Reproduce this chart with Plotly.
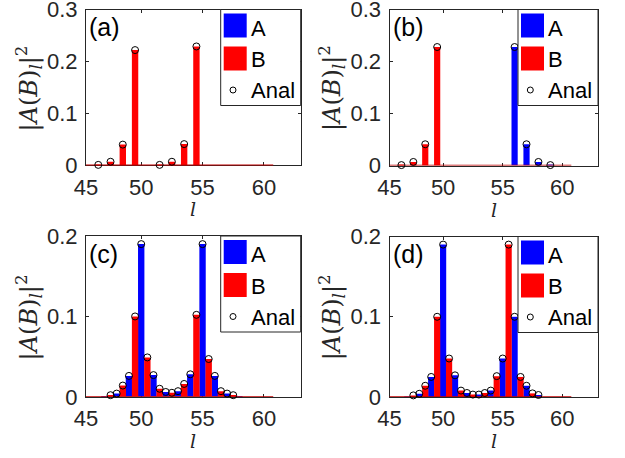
import plotly.graph_objects as go

# ---------------- data ----------------
# sublattice positions: A at integer l, B at half-integer l
l_A = [46, 47, 48, 49, 50, 51, 52, 53, 54, 55, 56, 57, 58, 59, 60]
l_B = [45.5, 46.5, 47.5, 48.5, 49.5, 50.5, 51.5, 52.5, 53.5, 54.5, 55.5, 56.5, 57.5, 58.5, 59.5, 60.5]

# panel (a)
a_A = [0, 0, 0, 0, 0, 0, 0, 0, 0, 0, 0, 0, 0, 0, 0]
a_B = [0, 0.001, 0.007, 0.040, 0.222, 0, 0.001, 0.007, 0.041, 0.229, 0, 0, 0, 0, 0, 0]
a_anal_x = [46.5, 47.5, 48.5, 49.5, 51.5, 52.5, 53.5, 54.5]
a_anal_y = [0.001, 0.007, 0.040, 0.222, 0.001, 0.007, 0.041, 0.229]

# panel (b)
b_A = [0, 0, 0, 0, 0, 0, 0, 0, 0, 0, 0.228, 0.041, 0.007, 0.001, 0]
b_B = [0, 0.001, 0.007, 0.041, 0.228, 0, 0, 0, 0, 0, 0, 0, 0, 0, 0, 0]
b_anal_x = [46.5, 47.5, 48.5, 49.5, 56, 57, 58, 59]
b_anal_y = [0.001, 0.007, 0.041, 0.228, 0.228, 0.041, 0.007, 0.001]

# panel (c)
c_A = [0, 0.0008, 0.004, 0.026, 0.190, 0.027, 0.006, 0.007, 0.028, 0.190, 0.026, 0.004, 0.0008, 0, 0]
c_B = [0, 0, 0.002, 0.014, 0.100, 0.049, 0.010, 0.005, 0.016, 0.102, 0.047, 0.007, 0.002, 0, 0, 0]
c_anal_x = [47.5, 48, 48.5, 49, 49.5, 50, 50.5, 51, 51.5, 52, 52.5, 53, 53.5, 54, 54.5, 55, 55.5, 56, 56.5, 57, 57.5]
c_anal_y = [0.002, 0.004, 0.014, 0.026, 0.100, 0.190, 0.049, 0.027, 0.010, 0.006, 0.005, 0.007, 0.016, 0.028, 0.102, 0.190, 0.047, 0.026, 0.007, 0.004, 0.002]

# panel (d)
d_A = [0, 0.0005, 0.004, 0.025, 0.190, 0.027, 0.005, 0.003, 0.008, 0.048, 0.100, 0.014, 0.0025, 0, 0]
d_B = [0, 0, 0.002, 0.014, 0.100, 0.048, 0.008, 0.003, 0.005, 0.026, 0.190, 0.025, 0.0045, 0, 0, 0]
d_anal_x = [47.5, 48, 48.5, 49, 49.5, 50, 50.5, 51, 51.5, 52, 52.5, 53, 53.5, 54, 54.5, 55, 55.5, 56, 56.5, 57, 57.5, 58]
d_anal_y = [0.002, 0.004, 0.014, 0.025, 0.100, 0.190, 0.048, 0.027, 0.008, 0.005, 0.003, 0.003, 0.005, 0.008, 0.026, 0.048, 0.190, 0.100, 0.025, 0.014, 0.0045, 0.0025]

x_ticks = [45.5, 50, 55, 60]
x_tick_labels = ["45", "50", "55", "60"]
y_ticks_top = [0, 0.1, 0.2, 0.3]
y_tick_labels_top = ["0", "0.1", "0.2", "0.3"]
y_ticks_bot = [0, 0.1, 0.2]
y_tick_labels_bot = ["0", "0.1", "0.2"]
panel_labels = ["(a)", "(b)", "(c)", "(d)"]
series_names = ["A", "B", "Anal"]

# ---------------- layout helpers ----------------
W, H = 625, 458
BLUE, RED = "#0000FF", "#FF0000"
AX = "#262626"
SANS = "Liberation Sans, Arial, sans-serif"
SERIF = "DejaVu Serif, serif"

def px(x):
    return x / W

def py(y):
    return 1 - y / H

# box pixel geometry: left, right, top, bottom
boxes = [
    (86, 300.7, 9.5, 165.4),
    (389.5, 598, 9.5, 165.6),
    (86, 300.7, 236, 396.8),
    (389.5, 598, 236.5, 397.0),
]
ymaxes = [0.3, 0.3, 0.2, 0.2]
panels = [
    (a_A, a_B, a_anal_x, a_anal_y),
    (b_A, b_B, b_anal_x, b_anal_y),
    (c_A, c_B, c_anal_x, c_anal_y),
    (d_A, d_B, d_anal_x, d_anal_y),
]

fig = go.Figure()
shapes = []
annotations = []
bar_w = 0.52

for i, ((A, B, ax_, ay_), (L, R, T, Bt), ymax, lab) in enumerate(zip(panels, boxes, ymaxes, panel_labels)):
    k = "" if i == 0 else str(i + 1)
    xa, ya = "x" + k, "y" + k
    fig.add_trace(go.Bar(x=l_A, y=A, width=bar_w, marker=dict(color=BLUE, line=dict(width=0)),
                         name=series_names[0], showlegend=False, xaxis=xa, yaxis=ya))
    fig.add_trace(go.Bar(x=l_B, y=B, width=bar_w, marker=dict(color=RED, line=dict(width=0)),
                         name=series_names[1], showlegend=False, xaxis=xa, yaxis=ya))
    # zero baseline of the bar series
    fig.add_trace(go.Scatter(x=[l_B[0] - bar_w / 2, l_B[-1] + bar_w / 2], y=[0, 0], mode="lines",
                             line=dict(color="#C00000", width=1.6), showlegend=False,
                             hoverinfo="skip", xaxis=xa, yaxis=ya))
    fig.add_trace(go.Scatter(x=ax_, y=ay_, mode="markers", cliponaxis=False,
                             marker=dict(symbol="circle-open", color="black", size=7, line=dict(width=1)),
                             name=series_names[2], showlegend=False, xaxis=xa, yaxis=ya))

    yt = y_ticks_top if ymax > 0.25 else y_ticks_bot
    ytl = y_tick_labels_top if ymax > 0.25 else y_tick_labels_bot
    common = dict(showline=True, linecolor=AX, linewidth=1, mirror="ticks", ticks="inside",
                  ticklen=3, tickcolor=AX, showgrid=False, zeroline=False, layer="below traces",
                  automargin=False, ticklabeloverflow="allow",
                  tickfont=dict(family=SANS, size=22, color=AX))
    fig.layout["xaxis" + k] = dict(domain=[px(L), px(R)], range=[45.5, 63.0], anchor=ya,
                                   tickvals=x_ticks, ticktext=x_tick_labels, ticklabelstandoff=2, **common)
    fig.layout["yaxis" + k] = dict(domain=[py(Bt), py(T)], range=[0, ymax * 1.0005], anchor=xa,
                                   tickvals=yt, ticktext=ytl, ticklabelstandoff=3, **common)

    # panel label
    annotations.append(dict(x=px(L + 1), y=py(T + 17.5), xref="paper", yref="paper", text=lab,
                            showarrow=False, xanchor="left", yanchor="middle",
                            font=dict(family=SANS, size=25, color="black")))
    # y title
    annotations.append(dict(x=px(L - 58), y=py((T + Bt) / 2 + 1), xref="paper", yref="paper",
                            text="|<i>A</i>(<i>B</i>)<sub><i>l</i></sub>|<sup>2</sup>", textangle=-90,
                            showarrow=False, xanchor="center", yanchor="middle",
                            font=dict(family=SERIF, size=24, color=AX)))
    # x title
    annotations.append(dict(x=px((L + R) / 2), y=py(Bt + 44), xref="paper", yref="paper",
                            text="<i>l</i>", showarrow=False, xanchor="center", yanchor="middle",
                            font=dict(family=SERIF, size=19, color=AX)))

    # manual legend
    lw, lh = 80, 96
    lx0, ly0 = R - lw, T
    shapes.append(dict(type="rect", xref="paper", yref="paper", x0=px(lx0), x1=px(R), y0=py(ly0 + lh),
                       y1=py(ly0), fillcolor="white", line=dict(color=AX, width=1)))
    shapes.append(dict(type="rect", xref="paper", yref="paper", x0=px(lx0 + 3), x1=px(lx0 + 26),
                       y0=py(ly0 + 28), y1=py(ly0 + 4), fillcolor=BLUE, line=dict(width=0)))
    shapes.append(dict(type="rect", xref="paper", yref="paper", x0=px(lx0 + 3), x1=px(lx0 + 26),
                       y0=py(ly0 + 61), y1=py(ly0 + 37), fillcolor=RED, line=dict(width=0)))
    shapes.append(dict(type="circle", xref="paper", yref="paper", x0=px(lx0 + 9.3), x1=px(lx0 + 15.3),
                       y0=py(ly0 + 83.5), y1=py(ly0 + 77.5), fillcolor="white", line=dict(color="black", width=1)))
    for txt, yy in zip(series_names, [18.5, 50, 81]):
        annotations.append(dict(x=px(lx0 + 28), y=py(ly0 + yy), xref="paper", yref="paper", text=txt,
                                showarrow=False, xanchor="left", yanchor="middle",
                                font=dict(family=SANS, size=22, color="black")))

fig.update_layout(width=W, height=H, margin=dict(l=0, r=0, t=0, b=0), barmode="overlay",
                  paper_bgcolor="white", plot_bgcolor="white", showlegend=False,
                  shapes=shapes, annotations=annotations)
fig.write_html("out.html", config={"displayModeBar": False},
               post_script="document.body.style.margin='0px';document.body.style.overflow='hidden';")
